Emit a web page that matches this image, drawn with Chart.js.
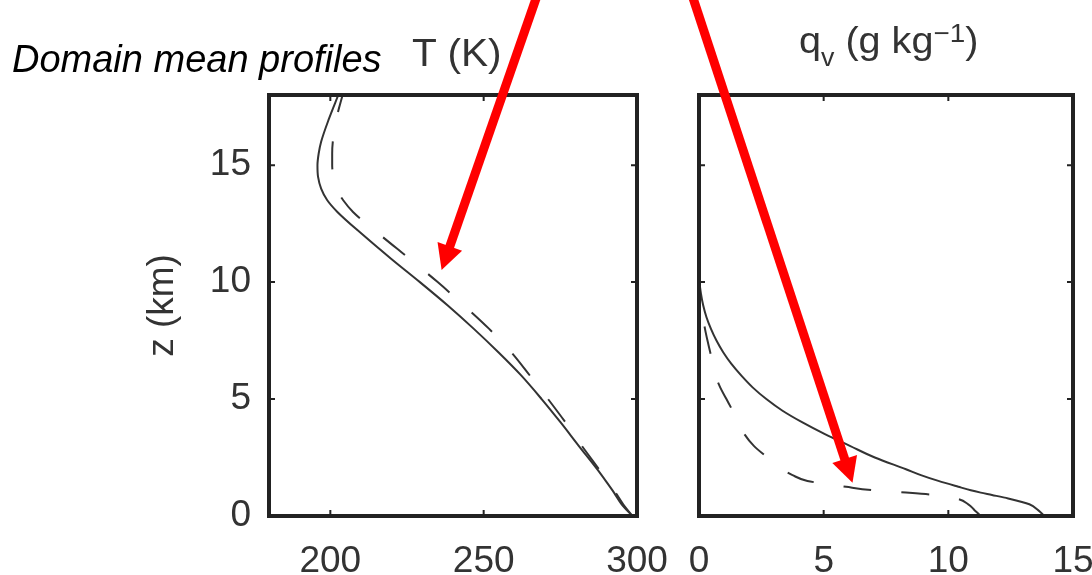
<!DOCTYPE html>
<html>
<head>
<meta charset="utf-8">
<script src="https://cdn.jsdelivr.net/npm/chart.js@4.4.0/dist/chart.umd.min.js"></script>
<style>
  body { margin: 0; background: #fff; width: 1092px; height: 575px; overflow: hidden; position: relative; font-family: "Liberation Sans", Arial, sans-serif; }
  canvas { position: absolute; top: 0; }
  #temp-chart { left: 0; }
  #qv-chart { left: 680px; }
  .txt { position: absolute; white-space: nowrap; line-height: 1; color: #333; transform-origin: left top; }
  #heading { left: 12px; top: 40px; font-size: 38px; font-style: italic; color: #000; }
  #temp-title { left: 412px; top: 34px; font-size: 38px; transform: scaleX(1.07); }
  #qv-title { left: 799px; top: 22px; font-size: 37px; transform: scaleX(1.07); }
  #qv-title .sub { font-size: 25px; position: relative; top: 13px; }
  #qv-title .sup { font-size: 26px; position: relative; top: -11px; }
  #arrows { position: absolute; left: 0; top: 0; }
</style>
</head>
<body>
<canvas id="temp-chart" width="680" height="575"></canvas>
<canvas id="qv-chart" width="412" height="575"></canvas>
<div class="txt" id="heading">Domain mean profiles</div>
<div class="txt" id="temp-title">T (K)</div>
<div class="txt" id="qv-title">q<span class="sub">v</span> (g kg<span class="sup">−1</span>)</div>
<svg id="arrows" width="1092" height="575"></svg>
<script>
// heights (km) for the temperature profiles
const zTemp = [0, 0.5, 1, 1.5, 2, 3, 4, 5, 6, 7, 8, 9, 10, 11, 12, 13, 13.5, 14, 14.5, 15, 15.5, 16, 17, 18];
const tempSolid = [298.5, 295, 292.5, 289.8, 287, 281, 275.1, 268.9, 262.3, 254.8, 246.8, 238.3, 229.2, 219.8, 210.8, 202.3, 199, 197, 196, 195.8, 196.2, 197, 199.6, 202.6];
const tempDashed = [298.5, 295.5, 293, 290.3, 287.6, 282, 276.7, 271, 265.1, 259, 251.8, 243.6, 235, 225.8, 216.4, 207.4, 204.2, 201.9, 201, 200.6, 200.6, 200.8, 202, 204];

// heights (km) for the water vapour profiles
const zQv = [0, 0.25, 0.5, 0.75, 0.9, 1, 1.1, 1.25, 1.5, 1.75, 2, 2.5, 3, 3.5, 4, 4.5, 5, 5.5, 6, 6.5, 7, 7.5, 8, 8.5, 9, 9.5, 10, 11, 12, 14, 16, 18];
const qvSolid = [13.85, 13.6, 13.25, 12.4, 11.75, 11.3, 10.9, 10.4, 9.6, 8.9, 8.3, 7.05, 6.05, 5.05, 4.15, 3.35, 2.7, 2.15, 1.7, 1.3, 0.97, 0.7, 0.48, 0.3, 0.17, 0.08, 0.02, 0, 0, 0, 0, 0];
const qvDashed = [11.3, 11.05, 10.8, 10.3, 9.4, 8.3, 7.0, 5.9, 4.35, 3.75, 3.35, 2.75, 2.2, 1.82, 1.58, 1.35, 1.1, 0.85, 0.66, 0.55, 0.45, 0.34, 0.24, 0.16, 0.09, 0.04, 0.01, 0, 0, 0, 0, 0];

const tempTicks = [200, 250, 300];
const qvTicks = [0, 5, 10, 15];
const zTicks = [0, 5, 10, 15];

const lineColor = "#333";
const tickFont = { family: "'Liberation Sans', Arial, sans-serif", size: 37 };

function toPoints(xs, zs) {
  return xs.map((x, i) => ({ x, y: zs[i] }));
}

function profile(xs, zs, dashed) {
  return {
    data: toPoints(xs, zs),
    borderColor: lineColor,
    borderWidth: 2,
    borderDash: dashed ? [28, 30] : [],
    pointRadius: 0,
    fill: false,
    cubicInterpolationMode: "monotone",
  };
}

// box round the plot area, with short inward ticks on every side
function framePlugin(xTicks, yTicks) {
  return {
    id: "frame",
    afterDatasetsDraw(chart) {
      const { ctx, chartArea: a, scales } = chart;
      ctx.save();
      ctx.strokeStyle = "#222";
      ctx.lineWidth = 2;
      ctx.beginPath();
      xTicks.forEach((v) => {
        const px = scales.x.getPixelForValue(v);
        ctx.moveTo(px, a.bottom); ctx.lineTo(px, a.bottom - 6);
        ctx.moveTo(px, a.top); ctx.lineTo(px, a.top + 6);
      });
      yTicks.forEach((v) => {
        const py = scales.y.getPixelForValue(v);
        ctx.moveTo(a.left, py); ctx.lineTo(a.left + 6, py);
        ctx.moveTo(a.right, py); ctx.lineTo(a.right - 6, py);
      });
      ctx.stroke();
      ctx.lineWidth = 4;
      ctx.strokeRect(a.left, a.top, a.right - a.left, a.bottom - a.top);
      ctx.restore();
    },
  };
}

function xAxis(min, max, ticks) {
  return {
    type: "linear",
    min,
    max,
    grid: { display: false, drawTicks: false },
    border: { display: false },
    afterBuildTicks: (s) => { s.ticks = ticks.map((value) => ({ value })); },
    afterFit: (s) => { s.height = 59; s.paddingLeft = 0; s.paddingRight = 0; },
    ticks: { font: tickFont, color: "#333", padding: 24, maxRotation: 0 },
  };
}

const tempChart = new Chart(document.getElementById("temp-chart"), {
  type: "line",
  data: { datasets: [profile(tempSolid, zTemp, false), profile(tempDashed, zTemp, true)] },
  options: {
    indexAxis: "y",
    responsive: false,
    animation: false,
    devicePixelRatio: 1,
    layout: { padding: { top: 95, right: 43, left: 0, bottom: 0 } },
    plugins: { legend: { display: false }, tooltip: { enabled: false } },
    scales: {
      x: xAxis(180, 300, tempTicks),
      y: {
        type: "linear",
        min: 0,
        max: 18,
        grid: { display: false, drawTicks: false },
        border: { display: false },
        afterBuildTicks: (s) => { s.ticks = zTicks.map((value) => ({ value })); },
        afterFit: (s) => { s.width = 269; s.paddingTop = 0; s.paddingBottom = 0; },
        ticks: { font: tickFont, color: "#333", padding: 18 },
        title: {
          display: true,
          text: "z (km)",
          font: tickFont,
          color: "#333",
          padding: { top: 141, bottom: 0 },
        },
      },
    },
  },
  plugins: [framePlugin(tempTicks, zTicks)],
});

const qvChart = new Chart(document.getElementById("qv-chart"), {
  type: "line",
  data: { datasets: [profile(qvSolid, zQv, false), profile(qvDashed, zQv, true)] },
  options: {
    indexAxis: "y",
    responsive: false,
    animation: false,
    devicePixelRatio: 1,
    layout: { padding: { top: 95, right: 19, left: 19, bottom: 0 } },
    plugins: { legend: { display: false }, tooltip: { enabled: false } },
    scales: {
      x: xAxis(0, 15, qvTicks),
      y: { type: "linear", min: 0, max: 18, display: false },
    },
  },
  plugins: [framePlugin(qvTicks, zTicks)],
});

// red pointer arrows laid over both panels
function addArrow(svg, x1, y1, x2, y2) {
  const ns = "http://www.w3.org/2000/svg";
  const dx = x2 - x1, dy = y2 - y1;
  const len = Math.hypot(dx, dy);
  const ux = dx / len, uy = dy / len;
  const headLen = 25, halfW = 13;
  const bx = x2 - ux * headLen, by = y2 - uy * headLen;
  const shaft = document.createElementNS(ns, "line");
  shaft.setAttribute("x1", x1); shaft.setAttribute("y1", y1);
  shaft.setAttribute("x2", bx + ux * 2); shaft.setAttribute("y2", by + uy * 2);
  shaft.setAttribute("stroke", "#ff0000");
  shaft.setAttribute("stroke-width", 9);
  svg.appendChild(shaft);
  const head = document.createElementNS(ns, "polygon");
  const pts = [
    [x2, y2],
    [bx - uy * halfW, by + ux * halfW],
    [bx + uy * halfW, by - ux * halfW],
  ];
  head.setAttribute("points", pts.map((p) => p.join(",")).join(" "));
  head.setAttribute("fill", "#ff0000");
  svg.appendChild(head);
}

const svg = document.getElementById("arrows");
addArrow(svg, 539, -10, 441.6, 270);
addArrow(svg, 690.4, -10, 852.5, 482.8);
</script>
</body>
</html>
